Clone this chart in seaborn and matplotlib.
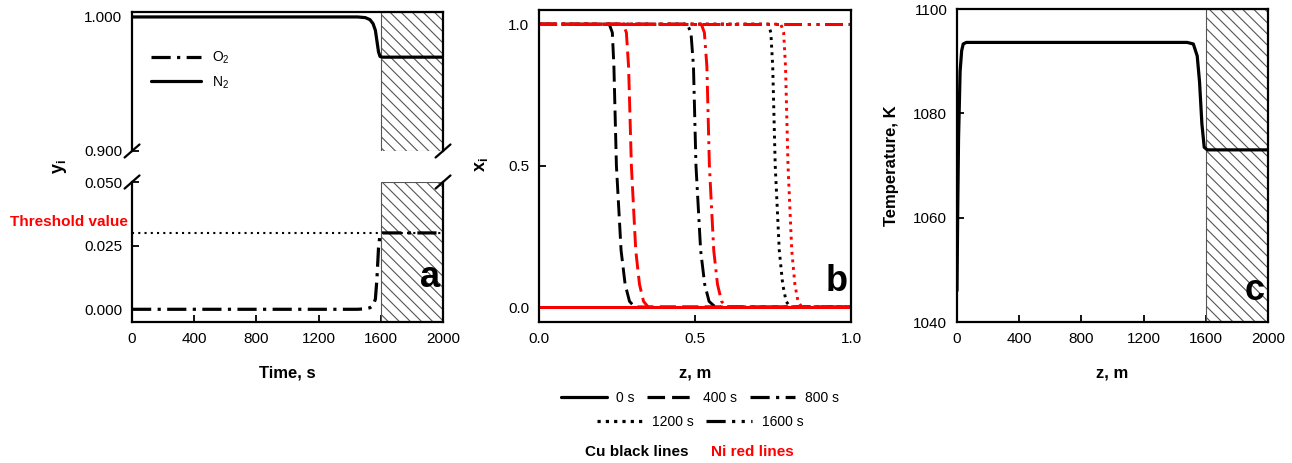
import matplotlib
matplotlib.use("Agg")
import matplotlib.pyplot as plt
import seaborn as sns
from matplotlib.lines import Line2D

# ---- data ----
# panel a: gas mole fractions vs time
time_a = [0, 1450, 1500, 1530, 1550, 1565, 1575, 1585, 1595, 1610, 2000]
y_n2 = [1.0, 1.0, 0.9995, 0.998, 0.995, 0.99, 0.982, 0.974, 0.9705, 0.97, 0.97]
y_o2 = [0.0, 0.0, 0.0002, 0.0006, 0.0015, 0.004, 0.012, 0.024, 0.0295, 0.030, 0.030]
threshold = 0.03

# panel b: metal fraction fronts (shared x levels, z positions per time)
front_x = [1.0, 1.0, 0.97, 0.85, 0.5, 0.2, 0.08, 0.02, 0.0, 0.0]
cu_400 = [0, 0.225, 0.235, 0.240, 0.248, 0.263, 0.276, 0.290, 0.307, 1.0]
ni_400 = [0, 0.270, 0.280, 0.287, 0.296, 0.310, 0.322, 0.335, 0.350, 1.0]
cu_800 = [0, 0.475, 0.487, 0.495, 0.503, 0.518, 0.531, 0.545, 0.565, 1.0]
ni_800 = [0, 0.520, 0.530, 0.538, 0.546, 0.560, 0.572, 0.585, 0.600, 1.0]
cu_1200 = [0, 0.735, 0.743, 0.749, 0.757, 0.770, 0.781, 0.792, 0.805, 1.0]
ni_1200 = [0, 0.775, 0.784, 0.790, 0.798, 0.810, 0.820, 0.830, 0.842, 1.0]
flat_z = [0.0, 1.0]
x_0s = [0.0, 0.0]
x_1600s = [1.0, 1.0]
legend_row1 = ["0 s", "400 s", "800 s"]
legend_row2 = ["1200 s", "1600 s"]

# panel c: temperature profile
z_c = [0, 5, 10, 20, 30, 40, 60, 1480, 1520, 1545, 1560, 1575, 1590, 1610, 2000]
temp_c = [1046, 1062, 1075, 1088, 1092, 1093.3, 1093.6, 1093.6, 1093.3, 1091,
          1086, 1078, 1073.5, 1073, 1073]

sns.set_style("ticks")
plt.rcParams['font.family'] = ['Liberation Sans', 'DejaVu Sans']
plt.rcParams['mathtext.fontset'] = 'custom'
plt.rcParams['mathtext.rm'] = 'Liberation Sans'
plt.rcParams['mathtext.it'] = 'Liberation Sans:italic'
plt.rcParams['mathtext.bf'] = 'Liberation Sans:bold'
plt.rcParams['hatch.color'] = '#555555'
plt.rcParams['hatch.linewidth'] = 0.8
plt.rcParams['text.color'] = 'black'
plt.rcParams['axes.labelcolor'] = 'black'
plt.rcParams['xtick.color'] = 'black'
plt.rcParams['ytick.color'] = 'black'

styles = {
    "0 s": '-',
    "400 s": (0, (5.5, 2.2)),
    "800 s": (0, (6, 2, 1, 2)),
    "1200 s": (0, (1, 1.6)),
    "1600 s": (0, (6, 2, 1, 2, 1, 2)),
}

fig = plt.figure(figsize=(12.92, 4.63), dpi=100)
ax_top = fig.add_axes([0.1022, 0.6739, 0.2407, 0.3002])
ax_bot = fig.add_axes([0.1022, 0.3045, 0.2407, 0.3024])
ax_b = fig.add_axes([0.4172, 0.3045, 0.2415, 0.6739])
ax_c = fig.add_axes([0.7407, 0.3045, 0.2407, 0.676])


def style_axis(ax, fs=11):
    for s in ax.spines.values():
        s.set_linewidth(1.6)
        s.set_color('black')
    ax.tick_params(direction='in', length=5, width=1.3, labelsize=fs, pad=7,
                   colors='black')


def hatch_box(ax):
    ax.axvspan(1600, 2000, facecolor='none', edgecolor='#555555',
               hatch='\\\\\\', lw=0.8, zorder=1)


# ---- panel a ----
lw_a = 2.3
o2_style = (0, (6, 2, 1, 2))
for ax in (ax_top, ax_bot):
    style_axis(ax)
    hatch_box(ax)
    ax.set_xlim(0, 2000)
    sns.lineplot(x=time_a, y=y_n2, ax=ax, color='black', lw=lw_a,
                 estimator=None, sort=False, zorder=3)
    sns.lineplot(x=time_a, y=y_o2, ax=ax, color='black', lw=lw_a,
                 linestyle=o2_style, estimator=None, sort=False, zorder=3)

ax_top.set_ylim(0.9, 1.0037)
ax_top.set_yticks([0.9, 1.0])
ax_top.set_yticklabels(["0.900", "1.000"])
ax_top.spines['bottom'].set_visible(False)
ax_top.tick_params(axis='x', bottom=False, labelbottom=False)

ax_bot.set_ylim(-0.005, 0.05)
ax_bot.set_yticks([0.0, 0.025, 0.05])
ax_bot.set_yticklabels(["0.000", "0.025", "0.050"])
ax_bot.spines['top'].set_visible(False)
ax_bot.set_xticks([0, 400, 800, 1200, 1600, 2000])
ax_bot.axhline(threshold, color='black', lw=1.5, linestyle=(0, (1, 2)), zorder=2)
ax_bot.set_xlabel("Time, s", fontsize=12, fontweight='bold', labelpad=14)
ax_bot.text(0.99, 0.32, "a", transform=ax_bot.transAxes, ha='right',
            va='center', fontsize=26, fontweight='bold', color='black')

# break marks
dx, dy = 0.024, 0.047
for xx in (0, 1):
    ax_top.plot([xx - dx, xx + dx], [-dy, dy], transform=ax_top.transAxes,
                color='black', lw=1.6, clip_on=False)
    ax_bot.plot([xx - dx, xx + dx], [1 - dy, 1 + dy], transform=ax_bot.transAxes,
                color='black', lw=1.6, clip_on=False)

leg_a = [Line2D([], [], color='black', lw=lw_a, linestyle=o2_style),
         Line2D([], [], color='black', lw=lw_a)]
ax_top.legend(leg_a, ["O$_2$", "N$_2$"], loc='upper left',
              bbox_to_anchor=(0.02, 0.82), frameon=False, fontsize=10,
              handlelength=3.6, labelspacing=0.6)

fig.text(60 / 1292, 1 - 167 / 463, "y$_\\mathregular{i}$", rotation=90,
         ha='center', va='center', fontsize=13, fontweight='bold')
fig.text(128 / 1292, 1 - 222 / 463, "Threshold value", color='red',
         ha='right', va='center', fontsize=11, fontweight='bold')

# ---- panel b ----
lw_b = 2.1
style_axis(ax_b)
ax_b.set_xlim(0, 1)
ax_b.set_ylim(-0.053, 1.05)
ax_b.set_xticks([0, 0.5, 1.0])
ax_b.set_xticklabels(["0.0", "0.5", "1.0"])
ax_b.set_yticks([0, 0.5, 1.0])
ax_b.set_yticklabels(["0.0", "0.5", "1.0"])

cu_fronts = {"400 s": cu_400, "800 s": cu_800, "1200 s": cu_1200}
ni_fronts = {"400 s": ni_400, "800 s": ni_800, "1200 s": ni_1200}
for color, fronts in (('black', cu_fronts), ('red', ni_fronts)):
    sns.lineplot(x=flat_z, y=x_0s, ax=ax_b, color=color, lw=lw_b,
                 linestyle=styles["0 s"], estimator=None, sort=False)
    sns.lineplot(x=flat_z, y=x_1600s, ax=ax_b, color=color, lw=lw_b,
                 linestyle=styles["1600 s"], estimator=None, sort=False)
    for lab, zs in fronts.items():
        sns.lineplot(x=zs, y=front_x, ax=ax_b, color=color, lw=lw_b,
                     linestyle=styles[lab], estimator=None, sort=False)

ax_b.set_xlabel("z, m", fontsize=12, fontweight='bold', labelpad=14)
ax_b.text(0.99, 0.13, "b", transform=ax_b.transAxes, ha='right',
          va='center', fontsize=26, fontweight='bold', color='black')
fig.text(481 / 1292, 1 - 165 / 463, "x$_\\mathregular{i}$", rotation=90,
         ha='center', va='center', fontsize=13, fontweight='bold')

for row, ypix in ((legend_row1, 398), (legend_row2, 422)):
    handles = [Line2D([], [], color='black', lw=2.3, linestyle=styles[k]) for k in row]
    fig.legend(handles, row, loc='center', bbox_to_anchor=(700 / 1292, 1 - ypix / 463),
               ncol=len(row), frameon=False, fontsize=10, handlelength=3.3,
               handletextpad=0.7, columnspacing=0.9, borderpad=0)
fig.text(637 / 1292, 1 - 452 / 463, "Cu black lines", ha='center', va='center',
         fontsize=11, fontweight='bold')
fig.text(752 / 1292, 1 - 452 / 463, "Ni red lines", ha='center', va='center',
         fontsize=11, fontweight='bold', color='red')

# ---- panel c ----
style_axis(ax_c)
hatch_box(ax_c)
ax_c.set_xlim(0, 2000)
ax_c.set_ylim(1040, 1100)
ax_c.set_xticks([0, 400, 800, 1200, 1600, 2000])
ax_c.set_yticks([1040, 1060, 1080, 1100])
sns.lineplot(x=z_c, y=temp_c, ax=ax_c, color='black', lw=2.3,
             estimator=None, sort=False, zorder=3)
ax_c.set_xlabel("z, m", fontsize=12, fontweight='bold', labelpad=14)
ax_c.set_ylabel("Temperature, K", fontsize=12, fontweight='bold', labelpad=10)
ax_c.text(0.99, 0.10, "c", transform=ax_c.transAxes, ha='right',
          va='center', fontsize=26, fontweight='bold', color='black')

fig.savefig("out.png", dpi=100)
